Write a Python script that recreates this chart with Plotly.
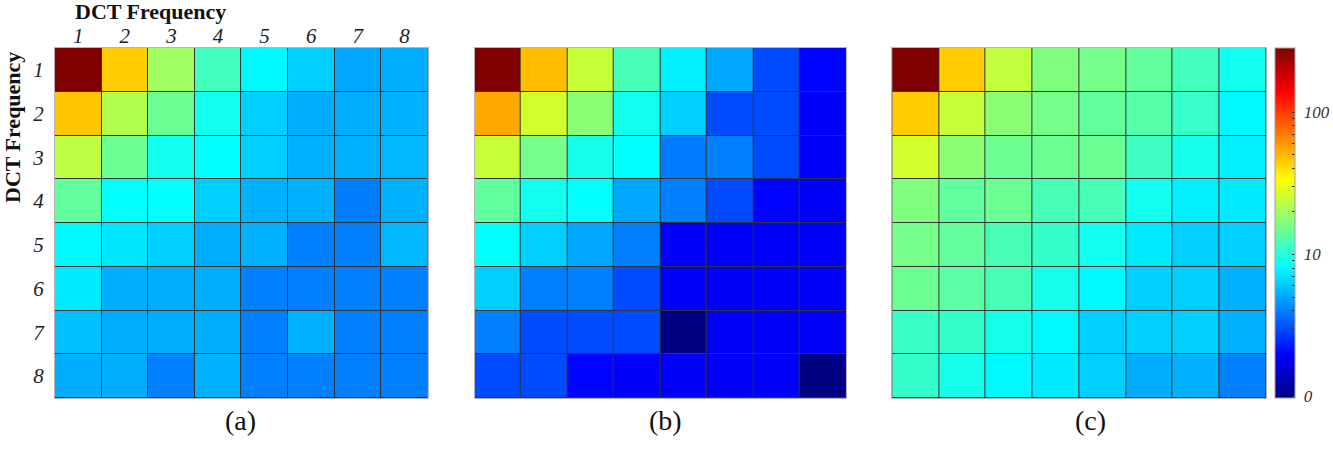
import numpy as np
import plotly.graph_objects as go

# ---------------- data (log colour scale) ----------------
freq = [1, 2, 3, 4, 5, 6, 7, 8]
tick_labels = ["1", "2", "3", "4", "5", "6", "7", "8"]

panel_a = [
    [300, 44.7, 19.7, 11.8, 7.9, 6.3, 5.0, 5.2],
    [46, 22, 14.8, 8.9, 6.3, 5.2, 5.2, 5.3],
    [23.3, 14.8, 8.9, 8.2, 6.3, 5.3, 5.3, 5.5],
    [14, 8.2, 8.2, 6.3, 5.3, 5.3, 3.95, 5.3],
    [7.9, 7.1, 6.3, 5.2, 5.3, 4.0, 4.0, 5.5],
    [7.3, 5.2, 5.2, 5.2, 4.0, 4.0, 4.0, 4.0],
    [5.8, 5.2, 5.2, 5.2, 4.0, 5.3, 4.0, 4.0],
    [5.2, 5.2, 4.0, 5.3, 4.0, 4.0, 4.0, 4.0],
]
panel_b = [
    [300, 48.6, 24.7, 12.2, 7.5, 5.0, 3.0, 2.0],
    [54.6, 26.1, 17.6, 8.9, 6.3, 3.0, 3.0, 1.94],
    [24.7, 15.7, 9.2, 8.2, 3.9, 4.0, 3.0, 1.94],
    [14, 8.9, 8.2, 5.0, 4.0, 3.0, 2.0, 1.94],
    [8.2, 6.3, 5.0, 4.0, 1.9, 1.9, 1.94, 1.94],
    [6.3, 4.0, 4.0, 3.0, 1.9, 1.88, 1.94, 1.94],
    [4.0, 3.0, 3.0, 3.0, 1.0, 1.9, 1.94, 1.9],
    [3.0, 3.0, 2.0, 1.94, 1.94, 1.9, 1.94, 1.0],
]
panel_c = [
    [300, 44.7, 24, 16.6, 15.7, 14, 11.8, 8.9],
    [44.7, 24.7, 17.6, 15.7, 14, 13.2, 11.0, 7.9],
    [26.1, 17.6, 14.8, 14.8, 14.8, 11.5, 9.2, 7.5],
    [16.6, 14, 14.8, 12.2, 12.2, 8.9, 7.5, 7.3],
    [15.7, 14, 12.2, 10.9, 8.9, 7.3, 6.3, 6.3],
    [14.8, 13.6, 12.2, 9.2, 7.9, 6.3, 6.3, 5.3],
    [11.2, 10.9, 9.2, 7.9, 6.3, 6.3, 6.3, 5.3],
    [10.9, 9.2, 7.9, 7.3, 6.3, 5.2, 5.3, 4.0],
]
panel_labels = ["(a)", "(b)", "(c)"]
axis_title = "DCT Frequency"

cbar_major = [1, 10, 100]
cbar_major_text = ["0", "10", "100"]
cbar_minor = [2, 3, 4, 5, 6, 7, 8, 9, 20, 30, 40, 50, 60, 70, 80, 90, 200]
cmin_val, cmax_val = 0.975, 282

# ---------------- figure geometry (page pixels) ----------------
W, H = 1333, 453
SERIF = "Liberation Serif, Times New Roman, serif"


def px(xp):
    return xp / W


def py(yp):
    return 1 - yp / H


jet = [[0.0, "#000080"], [0.125, "#0000ff"], [0.375, "#00ffff"],
       [0.625, "#ffff00"], [0.875, "#ff0000"], [1.0, "#800000"]]

fig = go.Figure()

x_domains = [(55, 428), (475, 847), (893, 1267)]
y_dom = [py(398), py(48)]

for i, z in enumerate([panel_a, panel_b, panel_c]):
    sfx = "" if i == 0 else str(i + 1)
    fig.add_trace(go.Heatmap(
        x=freq, y=freq, z=np.log10(np.array(z, dtype=float)),
        coloraxis="coloraxis", xgap=1, ygap=1,
        xaxis="x" + sfx, yaxis="y" + sfx,
        hovertemplate="row %{y}, col %{x}<extra></extra>",
    ))
    x0, x1 = x_domains[i]
    show = i == 0
    fig.layout["xaxis" + sfx] = dict(
        domain=[px(x0), px(x1)], anchor="y" + sfx, side="top",
        range=[0.5, 8.5], tickmode="array", tickvals=freq, ticktext=tick_labels,
        showticklabels=show, ticks="", showgrid=False, zeroline=False,
        showline=True, mirror=True, linecolor="#b4b4b4", linewidth=1,
        tickfont=dict(family=SERIF, size=21, style="italic", color="#222"),
        ticklabelstandoff=-4, fixedrange=True,
    )
    fig.layout["yaxis" + sfx] = dict(
        domain=y_dom, anchor="x" + sfx,
        range=[8.5, 0.5], tickmode="array", tickvals=freq, ticktext=tick_labels,
        showticklabels=show, ticks="", showgrid=False, zeroline=False,
        showline=True, mirror=True, linecolor="#b4b4b4", linewidth=1,
        tickfont=dict(family=SERIF, size=21, style="italic", color="#222"),
        ticklabelstandoff=6, fixedrange=True,
    )

tickvals = [np.log10(v) for v in cbar_major + cbar_minor]
ticktext = ["\u00a0" + t for t in cbar_major_text] + [""] * len(cbar_minor)

fig.update_layout(
    width=W, height=H,
    margin=dict(l=0, r=0, t=0, b=0),
    paper_bgcolor="white", plot_bgcolor="#343434",
    showlegend=False,
    coloraxis=dict(
        colorscale=jet, cmin=np.log10(cmin_val), cmax=np.log10(cmax_val),
        colorbar=dict(
            x=px(1275), xanchor="left", xpad=0,
            y=py(398), yanchor="bottom", ypad=0,
            len=350, lenmode="pixels", thickness=20, thicknessmode="pixels",
            outlinewidth=1, outlinecolor="#a0a0a0",
            tickmode="array", tickvals=tickvals, ticktext=ticktext,
            ticks="inside", ticklen=3, tickcolor="#333", tickwidth=1,
            tickfont=dict(family=SERIF, size=17, style="italic", color="#333"),
        ),
    ),
)

annotations = [
    dict(text="<b>" + axis_title + "</b>", x=px(151), y=py(11), xref="paper", yref="paper",
         showarrow=False, font=dict(family=SERIF, size=22, color="#111"),
         xanchor="center", yanchor="middle"),
    dict(text="<b>" + axis_title + "</b>", x=px(12), y=py(127), xref="paper", yref="paper",
         showarrow=False, textangle=-90, font=dict(family=SERIF, size=22, color="#111"),
         xanchor="center", yanchor="middle"),
]
for lab, cx in zip(panel_labels, [241, 666, 1091]):
    annotations.append(dict(text=lab, x=px(cx), y=py(420), xref="paper", yref="paper",
                            showarrow=False, font=dict(family=SERIF, size=28, color="#111"),
                            xanchor="center", yanchor="middle"))
fig.update_layout(annotations=annotations)

fig.write_html("out.html", config={"displayModeBar": False},
               post_script="document.body.style.margin='0';")
